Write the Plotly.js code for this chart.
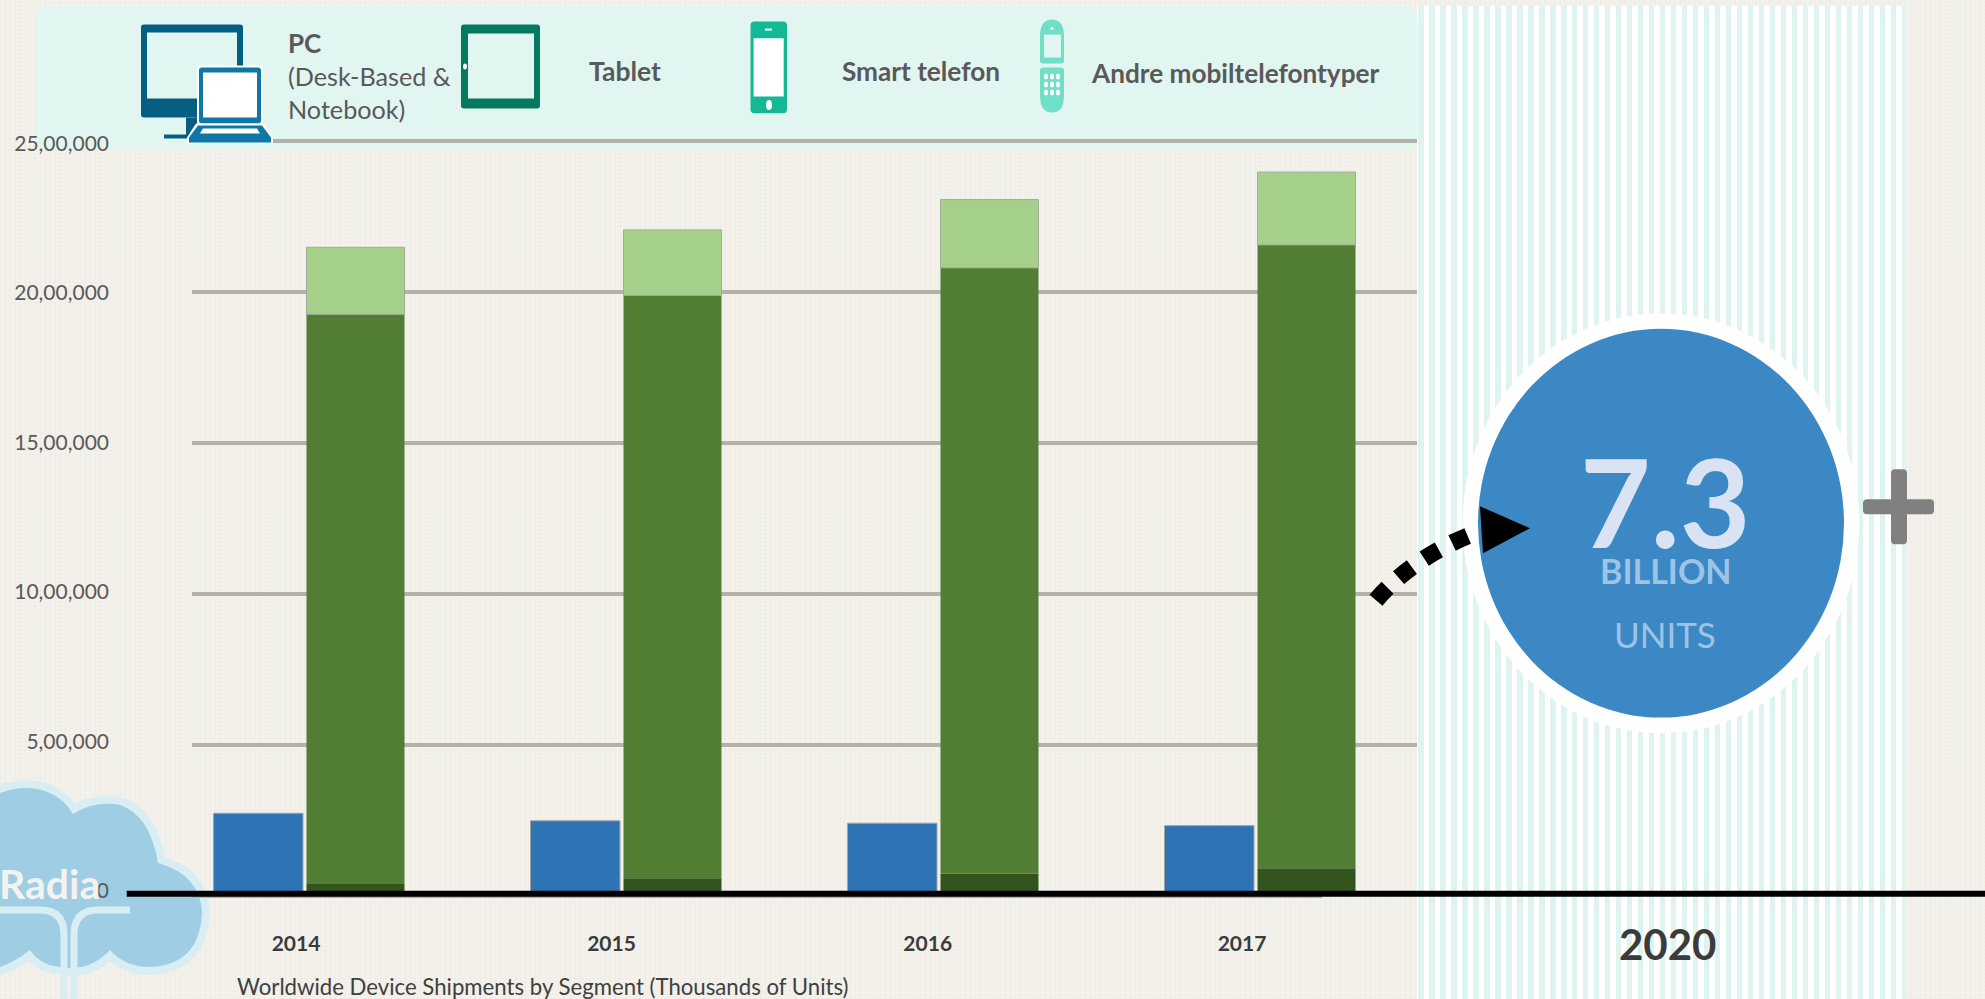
<!DOCTYPE html>
<html>
<head>
<meta charset="utf-8">
<script src="https://cdn.plot.ly/plotly-3.0.1.min.js"></script>
<style>
html,body{margin:0;padding:0;width:1985px;height:999px;overflow:hidden}
body{background-color:#f3f1ea;
background-image:repeating-linear-gradient(0deg,rgba(150,140,120,.035) 0 1px,transparent 1px 4px),repeating-linear-gradient(90deg,rgba(150,140,120,.035) 0 1px,rgba(255,255,255,.05) 1px 3px,transparent 3px 5px)}
#panel{position:absolute;left:36px;top:6px;width:1381px;height:143px;background:#e2f6f1;border-radius:14px}
#stripes{position:absolute;left:1417px;top:6px;width:489px;height:993px;background:repeating-linear-gradient(90deg,#fff 0 1px,#dff4f1 1px 6.5px,#fff 6.5px 11px)}
#chart{position:absolute;left:0;top:0;width:1985px;height:999px}
</style>
</head>
<body>
<div id="panel"></div>
<div id="stripes"></div>
<div id="chart"></div>
<script>
// ---- data (thousands of units) ----
var years      = [2014, 2015, 2016, 2017];
var yearLabels = ['2014', '2015', '2016', '2017'];
var pc         = [274000, 249000, 241000, 233000];
var tablet     = [42000, 58600, 74000, 92000];
var smart      = [1884000, 1930000, 2006000, 2064000];
var other      = [222000, 217000, 226000, 241000];
var yTickVals  = [0, 500000, 1000000, 1500000, 2000000, 2500000];
var yTickText  = ['0', '5,00,000', '10,00,000', '15,00,000', '20,00,000', '25,00,000'];
var labelShift = [-9, -10.5, -11.3, -14];   // px offset of the year labels

// ---- page geometry ----
var W = 1985, H = 999, L = 192, R = 1417, T = 130.5, B = 896;
var PX_25 = 140.5;                       // pixel row of the 25,00,000 gridline
var yTop = 2500000 * (B - T) / (B - PX_25);
var UNIT = 317, X0 = 305;
function ux(px){ return 2014 + (px - X0) / UNIT; }
function px2x(p){ return (p - L) / (R - L); }
function px2y(p){ return (B - p) / (B - T); }
function path(s){
  var i = 0;
  return s.replace(/-?\d+(\.\d+)?/g, function(m){
    var v = parseFloat(m), r = (i++ % 2 === 0) ? px2x(v) : px2y(v);
    return r.toFixed(5);
  });
}
function rr(x0,y0,x1,y1,r){
  return 'M'+(x0+r)+','+y0+' L'+(x1-r)+','+y0+' Q'+x1+','+y0+' '+x1+','+(y0+r)+
         ' L'+x1+','+(y1-r)+' Q'+x1+','+y1+' '+(x1-r)+','+y1+
         ' L'+(x0+r)+','+y1+' Q'+x0+','+y1+' '+x0+','+(y1-r)+
         ' L'+x0+','+(y0+r)+' Q'+x0+','+y0+' '+(x0+r)+','+y0+' Z';
}
function fillShape(d,color,layer){
  return {type:'path',xref:'paper',yref:'paper',path:path(d),fillcolor:color,line:{width:0},layer:layer||'above'};
}
function strokeShape(d,color,w,layer,dash){
  return {type:'path',xref:'paper',yref:'paper',path:path(d),line:{color:color,width:w,dash:dash||'solid'},layer:layer||'above'};
}
function ellipse(cx,cy,rx,ry,color,layer){
  return {type:'circle',xref:'paper',yref:'paper',x0:px2x(cx-rx),x1:px2x(cx+rx),y0:px2y(cy-ry),y1:px2y(cy+ry),
          fillcolor:color,line:{width:0},layer:layer||'above'};
}
function ann(text,x,y,size,color,weight,anchor,align){
  return {text:text,xref:'paper',yref:'paper',x:px2x(x),y:px2y(y),xanchor:anchor||'center',yanchor:'middle',
          align:align||'center',showarrow:false,font:{family:'Lato, sans-serif',size:size,color:color,weight:weight||400}};
}

// ---- bars ----
var sum = function(a,b){ return a.map(function(v,i){ return v + b[i]; }); };
var greenOpts = {offset:(306.5-X0)/UNIT, width:98/UNIT};
var traces = [
  {type:'bar',name:'PC',x:years,y:pc,offset:(213.5-X0)/UNIT,width:89.5/UNIT,
   marker:{color:'#2e74b5',line:{color:'#a3a3a0',width:1}}},
  {type:'bar',name:'Tablet',x:years,y:tablet,offset:greenOpts.offset,width:greenOpts.width,
   marker:{color:'#33541c',line:{width:0}}},
  {type:'bar',name:'Smart telefon',x:years,y:smart,base:tablet,offset:greenOpts.offset,width:greenOpts.width,
   marker:{color:'#527e34',line:{width:0}}},
  {type:'bar',name:'Andre mobiltelefontyper',x:years,y:other,base:sum(tablet,smart),offset:greenOpts.offset,width:greenOpts.width,
   marker:{color:'#a5d08a',line:{color:'#a3aa9a',width:1}}},
  // carries the axis that holds the y tick labels
  {type:'scatter',mode:'none',x:[years[0]],y:[yTickVals[0]],yaxis:'y2',hoverinfo:'skip',showlegend:false}
];

// ---- decoration ----
var cloud = 'M0,793 Q28,783 50,793 Q65,800 73,814 Q95,800 120,805 Q150,815 158,863 Q200,875 202,912 Q200,965 150,967 Q125,967 110,950 Q90,972 60,967 Q40,965 30,950 Q15,962 0,967 Z';
var panelC = '#e2f6f1';
var shapes = [
  strokeShape(cloud,'#d9eef3',16,'below'),
  fillShape(cloud,'#9fcde4','below'),
  strokeShape('M0,910 L40,910 Q64,910 64,935 L64,999','#d9eef3',7,'below'),
  strokeShape('M130,910 L98,910 Q74,910 74,935 L74,999','#d9eef3',7,'below'),
  // baseline grid stub
  {type:'line',xref:'paper',yref:'paper',x0:0,x1:px2x(1322),y0:0,y1:0,line:{color:'#b3b1aa',width:4},layer:'below'},
  // black axis line
  {type:'line',xref:'paper',yref:'paper',x0:px2x(126.7),x1:px2x(W),y0:px2y(893.7),y1:px2y(893.7),line:{color:'#000',width:6},layer:'above'},
  // big circle
  ellipse(1661,523,198.5,210,'#ffffff'),
  ellipse(1661,523,183,194.5,'#3b88c4'),
  // arrow
  strokeShape('M1376,600 Q1412,558 1472,534','#000',17,'above','17px,15px'),
  fillShape('M1480,506 L1530,528 L1483,553 Z','#000'),
  // plus
  fillShape(rr(1863,499,1934,514,4),'#808080'),
  fillShape(rr(1891,469,1907,544,4),'#808080'),
  // monitor
  fillShape(rr(141,24,243,117,3),'#065f83'),
  fillShape('M147,32 L237,32 L237,98 L147,98 Z',panelC),
  fillShape('M186,117 L198,117 L198,134 L195,138 L164,138 L164,134 L186,134 Z','#065f83'),
  // laptop
  fillShape(rr(197,65,263,125,4),'#ffffff'),
  fillShape(rr(199,67,261,123,3),'#0f77a5'),
  fillShape('M203,72 L257,72 L257,117 L203,117 Z','#ffffff'),
  fillShape('M196,123 L264,123 L273,137 L273,143 L187,143 L187,137 Z','#ffffff'),
  fillShape('M198,125 L262,125 L271,137 L271,142 L189,142 L189,137 Z','#0f77a5'),
  fillShape('M203,128 L257,128 L260,133 L200,133 Z','#ffffff'),
  // tablet
  fillShape(rr(461,24,540,108,3),'#05795f'),
  fillShape('M468,33 L534,33 L534,98 L468,98 Z',panelC),
  ellipse(465,66,2,3,'#ffffff'),
  // smartphone
  fillShape(rr(750.5,21,787,112.7,4),'#15b894'),
  fillShape('M753.6,37.7 L783.7,37.7 L783.7,96 L753.6,96 Z','#ffffff'),
  ellipse(769,104.5,3,5,'#ffffff'),
  fillShape('M765,28 L772,28 L772,30 L765,30 Z','#ffffff'),
  // candybar phone
  fillShape('M1040,36 Q1040,19 1052,19 Q1064,19 1064,36 L1064,60 Q1064,63 1061,63 L1043,63 Q1040,63 1040,60 Z','#6fdfc8'),
  fillShape('M1044,34 L1061,34 L1061,57 L1044,57 Z',panelC),
  fillShape('M1043,67 L1061,67 Q1064,67 1064,70 L1064,95 Q1064,112 1052,112 Q1040,112 1040,95 L1040,70 Q1040,67 1043,67 Z','#6fdfc8'),
  ellipse(1052,28,1.5,1.2,'#ffffff')
];
[1046,1052,1058].forEach(function(cx){ [76,84,92].forEach(function(cy){ shapes.push(ellipse(cx,cy,2,3,'#ffffff')); }); });

var textDark = '#595959';
var annotations = [
  ann('PC',286,42,26,textDark,700,'left','left'),
  ann('(Desk-Based &<br>Notebook)',286,92,25.2,textDark,400,'left','left'),
  ann('Tablet',587,70,26.5,textDark,700,'left','left'),
  ann('Smart telefon',840,70.5,26.2,textDark,700,'left','left'),
  ann('Andre mobiltelefontyper',1089,72,26.2,textDark,700,'left','left'),
  ann('Radia',-3,883,41,'#f5f3ef',700,'left','left'),
  ann('Worldwide Device Shipments by Segment (Thousands of Units)',235,987,22.2,'#404040',400,'left','left'),
  ann('2020',1667,944,42,'#3b3b3b',700),
  ann('7.3',1665,501,122,'#dae3f3',700),
  ann('BILLION',1666,570,34,'#9dc3e6',700),
  ann('UNITS',1665,634,35,'#9dc3e6',400)
];

var layout = {
  width:W, height:H, autosize:false,
  margin:{l:L,r:W-R,t:T,b:H-B,pad:0},
  paper_bgcolor:'rgba(0,0,0,0)', plot_bgcolor:'rgba(0,0,0,0)',
  barmode:'overlay', showlegend:false,
  xaxis:{range:[ux(L),ux(R)],tickmode:'array',
         tickvals:years.map(function(y,i){return y+labelShift[i]/UNIT;}),ticktext:yearLabels,
         showgrid:false,zeroline:false,showline:false,ticks:'',ticklabelstandoff:33,
         tickfont:{family:'Lato, sans-serif',size:21,color:'#3b3b3b',weight:700}},
  yaxis:{range:[0,yTop],tickmode:'array',tickvals:yTickVals.slice(1),showticklabels:false,
         showgrid:true,gridcolor:'#b3b1aa',gridwidth:4,zeroline:false,showline:false,ticks:''},
  yaxis2:{overlaying:'y',anchor:'x',side:'left',
          range:[(891-B)/748*2500000,(891-T)/748*2500000],tickmode:'array',tickvals:yTickVals,ticktext:yTickText,
          showgrid:false,zeroline:false,showline:false,ticks:'',ticklabelstandoff:82,
          tickfont:{family:'Lato, sans-serif',size:21,color:'#595959'}},
  shapes:shapes, annotations:annotations
};
Plotly.newPlot('chart',traces,layout,{displayModeBar:false,responsive:false});
</script>
</body>
</html>
